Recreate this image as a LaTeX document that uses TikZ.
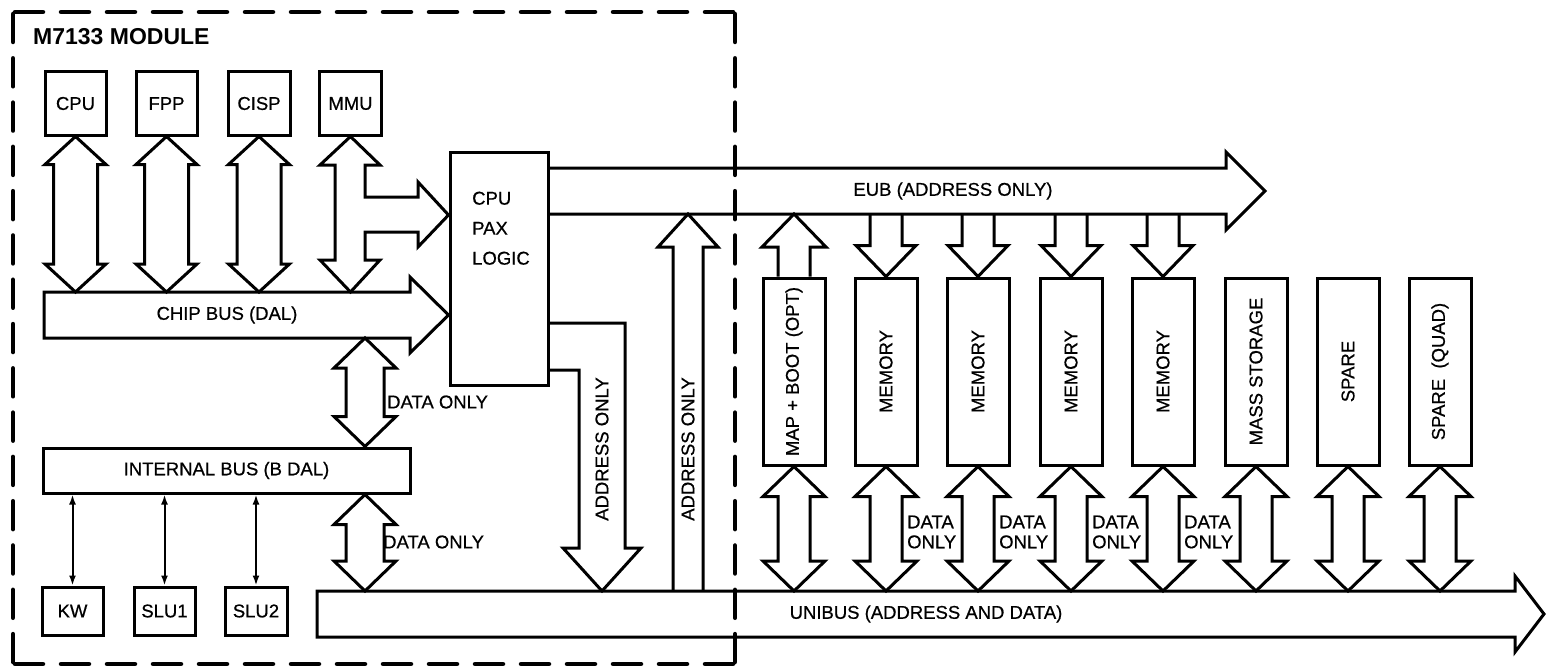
\documentclass[tikz,border=0pt]{standalone}
\usepackage{fontspec}
\setmainfont{Liberation Sans}
\newfontfamily\lblfam{Liberation Sans}[FakeBold=0.6]
\usepackage{graphicx}
\usetikzlibrary{calc,arrows.meta}
\newcommand\lblfont{\lblfam\fontsize{18.5}{20}\selectfont}
\tikzset{
  box/.style={draw, line width=3pt, inner sep=0pt, font=\lblfont, align=center},
  blk/.style={draw, line width=3pt, line join=miter},
  txt/.style={inner sep=0pt, font=\lblfont, align=center},
  thinarr/.style={line width=2pt, {Latex[length=10pt,width=7pt]}-{Latex[length=10pt,width=7pt]}},
  border/.style={line width=4.5pt, line cap=round},
}
% vertical double block arrow: top point, bottom point, shaft half width, head half width, head length
\newcommand\vdbl[5]{\draw[blk] let \p1=(#1), \p2=(#2) in
  (\x1,\y1) -- (\x1+#4pt,\y1-#5pt) -- (\x1+#3pt,\y1-#5pt) -- (\x1+#3pt,\y2+#5pt) -- (\x1+#4pt,\y2+#5pt) --
  (\x1,\y2) -- (\x1-#4pt,\y2+#5pt) -- (\x1-#3pt,\y2+#5pt) -- (\x1-#3pt,\y1-#5pt) -- (\x1-#4pt,\y1-#5pt) -- cycle;}
% block arrow from EUB down to a card
\newcommand\eubdown[1]{\draw[blk] let \p1=(#1.north), \p2=(eubS) in
  (\x1-16pt,\y2) -- (\x1-16pt,\y1+31pt) -- (\x1-30pt,\y1+31pt) -- (\x1,\y1) -- (\x1+30pt,\y1+31pt) -- (\x1+16pt,\y1+31pt) -- (\x1+16pt,\y2);}
\begin{document}
\begin{tikzpicture}[x=1pt,y=1pt]
\useasboundingbox (0,0) rectangle (1547,-669);

% reference levels of the buses
\coordinate (chipN) at (0,-292);
\coordinate (chipS) at (0,-338);
\coordinate (eubS) at (0,-214);
\coordinate (uniN) at (0,-591);
\coordinate (dx) at (365,0);

% title
\node[anchor=west, inner sep=0pt, font=\bfseries\fontsize{23}{26}\selectfont] (title) at (33,-37) {M7133 MODULE};

% chips
\node[box, minimum width=61, minimum height=63] (cpu) at (75.5,-103.5) {CPU};
\node[box, minimum width=61, minimum height=63] (fpp) at (166.5,-103.5) {FPP};
\node[box, minimum width=62, minimum height=63] (cisp) at (259,-103.5) {CISP};
\node[box, minimum width=62, minimum height=63] (mmu) at (350.5,-103.5) {MMU};

% CPU PAX LOGIC
\node[box, minimum width=98, minimum height=233] (pax) at (499,-268.5) {};
\node[anchor=north west, inner sep=0pt, align=left, font=\lblfam\fontsize{18.5}{30}\selectfont] (paxtxt) at (472,-191.5) {CPU\\PAX\\LOGIC};

% chip bus
\node[txt] (chiptxt) at (227,-315) {CHIP BUS (DAL)};
\draw[blk] (44,-292) -- (410,-292) -- (410,-277) -- (pax.west |- chiptxt) -- (410,-353) -- (410,-338) -- (44,-338) -- cycle;

% chip arrows
\vdbl{cpu.south}{cpu.south |- chipN}{22}{30.5}{28}
\vdbl{fpp.south}{fpp.south |- chipN}{22}{30.5}{28}
\vdbl{cisp.south}{cisp.south |- chipN}{22}{30.5}{28}
% MMU arrow with branch into PAX
\draw[blk] (mmu.south) -- (380,-165) -- (365,-165) -- (365,-197) -- (418,-197) -- (418,-182) -- (pax.west |- 0,-215)
  -- (418,-247) -- (418,-232) -- (365,-232) -- (365,-260) -- (380,-260) -- (mmu.south |- chipN) -- (320,-260)
  -- (335,-260) -- (335,-165) -- (320,-165) -- cycle;

% internal bus
\node[box, minimum width=367, minimum height=45] (intbus) at (226.5,-470.5) {INTERNAL BUS (B DAL)};
\vdbl{dx |- chipS}{dx |- intbus.north}{19}{31}{30}
\node[txt, anchor=west] (do1) at (387,-402) {DATA ONLY};

% local devices
\node[box, minimum width=61, minimum height=48] (kw) at (72.5,-611) {KW};
\node[box, minimum width=61, minimum height=48] (slu1) at (164.5,-611) {SLU1};
\node[box, minimum width=62, minimum height=48] (slu2) at (256,-611) {SLU2};
\draw[thinarr] (kw.north |- intbus.south) -- (kw.north);
\draw[thinarr] (slu1.north |- intbus.south) -- (slu1.north);
\draw[thinarr] (slu2.north |- intbus.south) -- (slu2.north);

% data only to unibus
\vdbl{dx |- intbus.south}{dx |- uniN}{19}{31}{30}
\node[txt, anchor=west] (do2) at (383,-542) {DATA ONLY};

% EUB
\draw[blk] (pax.east |- 0,-168) -- (1226,-168) -- (1226,-152) -- (1265,-191) -- (1226,-230) -- (1226,-214) -- (pax.east |- eubS);
\node[txt] (eubtxt) at (953,-191) {EUB (ADDRESS ONLY)};

% UNIBUS
\draw[blk] (317,-591) -- (1515,-591) -- (1515,-576) -- (1544,-614) -- (1515,-652) -- (1515,-637) -- (317,-637) -- cycle;
\node[txt] (unitxt) at (926,-614) {UNIBUS (ADDRESS AND DATA)};

% address only from PAX down to UNIBUS
\draw[blk] (pax.east |- 0,-323) -- (625,-323) -- (625,-548) -- (641,-548) -- (602,-591) -- (563,-548) -- (579,-548) -- (579,-370) -- (pax.east |- 0,-370);
\node[txt, rotate=90] (addr1) at (602,-449) {ADDRESS ONLY};

% address only from UNIBUS up to EUB
\draw[blk] (673,-591) -- (673,-247) -- (658,-247) -- (688,-214) -- (718,-247) -- (703,-247) -- (703,-591);
\node[txt, rotate=90] (addr2) at (688,-449) {ADDRESS ONLY};

% cards
\foreach \nm/\cx/\t in {map/794/{MAP + BOOT (OPT)}, mem1/886/MEMORY, mem2/978/MEMORY, mem3/1071/MEMORY,
    mem4/1163/MEMORY, mass/1256/{MASS STORAGE}, spare/1348/SPARE, quad/1440/{SPARE~~(QUAD)}}{
  \node[box, minimum width=62, minimum height=187] (\nm) at (\cx,-371.5) {\rotatebox{90}{\t}};
  \vdbl{\nm.south}{\nm.south |- uniN}{16}{31}{30}
}
% MAP + BOOT up to EUB
\draw[blk] let \p1=(map.north), \p2=(eubS) in
  (\x1-16pt,\y1) -- (\x1-16pt,\y2-33pt) -- (\x1-32pt,\y2-33pt) -- (\x1,\y2) -- (\x1+32pt,\y2-33pt) -- (\x1+16pt,\y2-33pt) -- (\x1+16pt,\y1);
\eubdown{mem1}
\eubdown{mem2}
\eubdown{mem3}
\eubdown{mem4}

\node[txt, anchor=west, align=left] (do3) at (907,-532) {DATA\\ONLY};
\node[txt, anchor=west, align=left] (do4) at (999,-532) {DATA\\ONLY};
\node[txt, anchor=west, align=left] (do5) at (1092,-532) {DATA\\ONLY};
\node[txt, anchor=west, align=left] (do6) at (1184,-532) {DATA\\ONLY};

% module border
\draw[border, dash pattern=on 28pt off 18pt] (15,-12) -- (733,-12);
\draw[border, dash pattern=on 28pt off 18pt] (15,-664) -- (733,-664);
\draw[border, dash pattern=on 28pt off 16.29pt] (13,-14) -- (13,-662);
\draw[border, dash pattern=on 28pt off 16.29pt] (735,-14) -- (735,-662);
\end{tikzpicture}
\end{document}
